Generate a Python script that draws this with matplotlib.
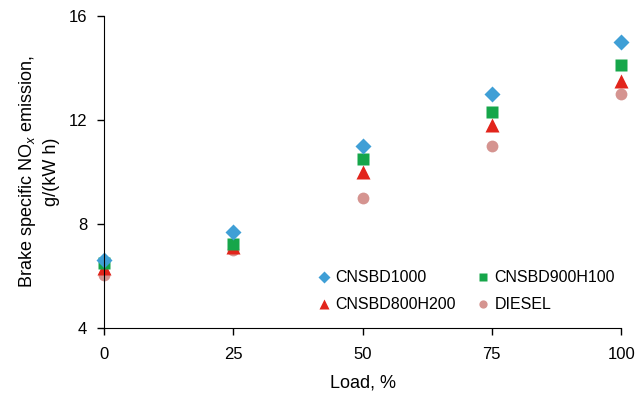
import matplotlib
matplotlib.use("Agg")
import matplotlib.pyplot as plt

plt.rcParams["font.family"] = ["Liberation Sans", "DejaVu Sans"]
plt.rcParams["mathtext.fontset"] = "custom"
plt.rcParams["mathtext.rm"] = "Liberation Sans"
plt.rcParams["mathtext.it"] = "Liberation Sans:italic"

# Données
load = [0, 25, 50, 75, 100]
cnsbd1000 = [6.6, 7.7, 11.0, 13.0, 15.0]
cnsbd900h100 = [6.5, 7.25, 10.5, 12.3, 14.1]
cnsbd800h200 = [6.3, 7.1, 10.0, 11.8, 13.5]
diesel = [6.05, 7.0, 9.0, 11.0, 13.0]

fig, ax = plt.subplots(figsize=(6.44, 3.95), dpi=100)
fig.subplots_adjust(left=0.1615, right=0.9645, top=0.9595, bottom=0.1695)

d = ax.plot(load, diesel, "o", color="#D59490", ms=8.5, mec="none", label="DIESEL", clip_on=False)[0]
t = ax.plot(load, cnsbd800h200, "^", color="#E2241B", ms=10.5, mec="none", label="CNSBD800H200", clip_on=False)[0]
s = ax.plot(load, cnsbd900h100, "s", color="#16A64A", ms=8.5, mec="none", label="CNSBD900H100", clip_on=False)[0]
c = ax.plot(load, cnsbd1000, "D", color="#3F9FD6", ms=8.5, mec="none", label="CNSBD1000", clip_on=False)[0]

ax.set_xlim(0, 100)
ax.set_ylim(4, 16)
ax.set_xticks(load)
ax.set_yticks([4, 8, 12, 16])
ax.spines["top"].set_visible(False)
ax.spines["right"].set_visible(False)
ax.tick_params(labelsize=12, length=5, width=1, direction="out")
ax.tick_params(axis="x", pad=9)
ax.tick_params(axis="y", pad=7)
ax.set_xlabel("Load, %", fontsize=13, labelpad=9)
ax.set_ylabel("Brake specific NO$_x$ emission,\ng/(kW h)", fontsize=13, labelpad=6,
              linespacing=1.4)

# ordre colonne par colonne pour obtenir les lignes du modèle
ax.legend([c, t, s, d], ["CNSBD1000", "CNSBD800H200", "CNSBD900H100", "DIESEL"],
          ncol=2, frameon=False, loc="upper left", bbox_to_anchor=(0.414, 0.185),
          borderaxespad=0, borderpad=0, fontsize=11.5, markerscale=0.7,
          handletextpad=0.3, columnspacing=1.3, handlelength=0.8, labelspacing=0.75)

plt.savefig("out.png")
plt.close()
